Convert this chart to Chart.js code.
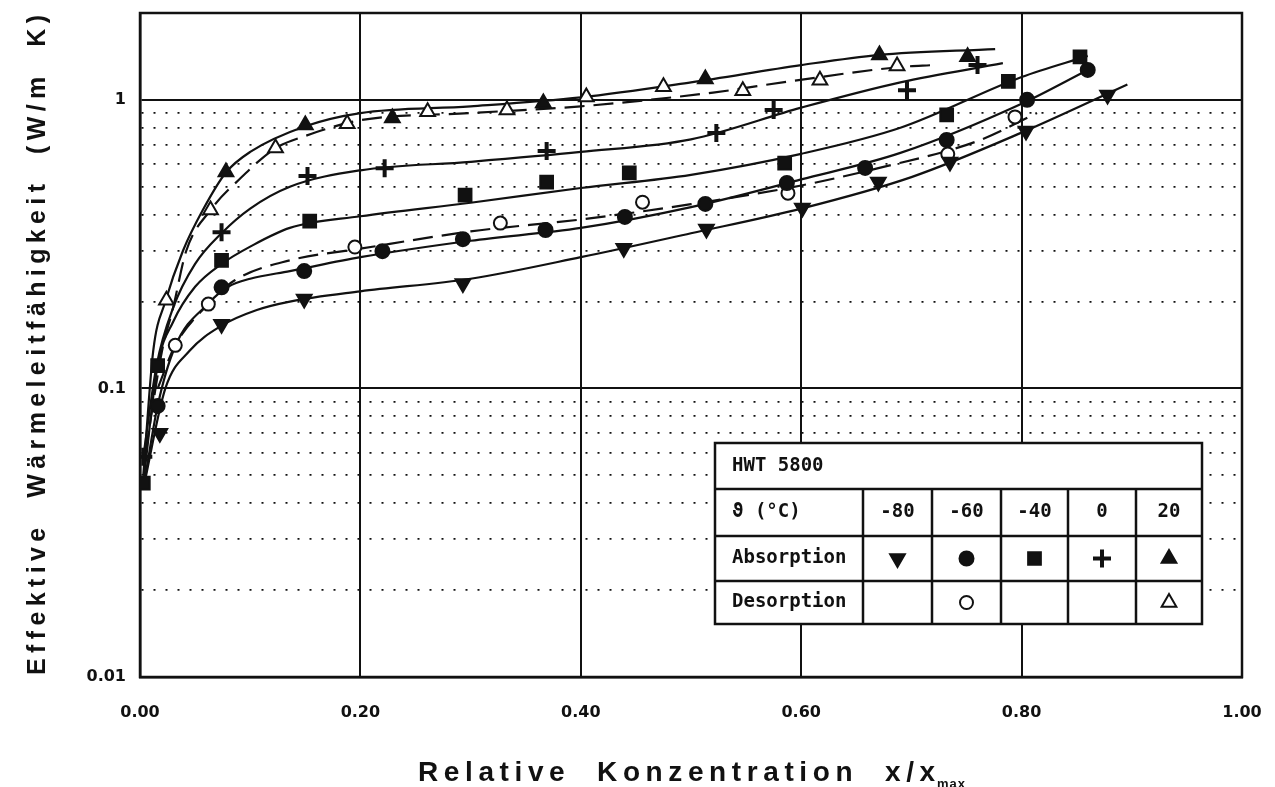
<!DOCTYPE html>
<html>
<head>
<meta charset="utf-8">
<script src="https://cdn.jsdelivr.net/npm/chart.js@4.4.1/dist/chart.umd.min.js"></script>
<style>
    html, body { margin: 0; padding: 0; background: #fff; }
    #wrap { position: relative; width: 1275px; height: 787px; }
</style>
</head>
<body>
<div id="wrap"><canvas id="chart" width="1275" height="787"></canvas></div>
<script>
// Axis ticks
const xTickValues = [0, 0.2, 0.4, 0.6, 0.8, 1.0];
const yLabelValues = [0.01, 0.1, 1];
const yMinorValues = [0.02, 0.03, 0.04, 0.05, 0.06, 0.07, 0.08, 0.09,
                      0.2, 0.3, 0.4, 0.5, 0.6, 0.7, 0.8, 0.9];

// Legend table
const tableTitle = 'HWT 5800';
const tempHeader = 'ϑ (°C)';
const tempLabels = ['-80', '-60', '-40', '0', '20'];

// Measured points (x/xmax, W/m K)
const m80AbsX = [0.018, 0.074, 0.149, 0.293, 0.439, 0.514, 0.601, 0.670, 0.735, 0.804, 0.878];
const m80AbsY = [0.070, 0.167, 0.204, 0.231, 0.306, 0.357, 0.422, 0.519, 0.609, 0.780, 1.04];

const m60AbsX = [0.016, 0.074, 0.149, 0.220, 0.293, 0.368, 0.440, 0.513, 0.587, 0.658, 0.732, 0.805, 0.860];
const m60AbsY = [0.087, 0.224, 0.255, 0.299, 0.329, 0.354, 0.393, 0.436, 0.515, 0.581, 0.726, 1.00, 1.27];

const m60DesX = [0.032, 0.062, 0.195, 0.327, 0.456, 0.588, 0.733, 0.794];
const m60DesY = [0.141, 0.196, 0.309, 0.374, 0.442, 0.475, 0.649, 0.873];

const m40AbsX = [0.003, 0.016, 0.074, 0.154, 0.295, 0.369, 0.444, 0.585, 0.732, 0.788, 0.853];
const m40AbsY = [0.047, 0.120, 0.278, 0.380, 0.468, 0.519, 0.558, 0.604, 0.887, 1.16, 1.41];

const p0AbsX = [0.003, 0.074, 0.152, 0.222, 0.369, 0.523, 0.575, 0.696, 0.760];
const p0AbsY = [0.058, 0.348, 0.545, 0.580, 0.665, 0.768, 0.923, 1.08, 1.32];

const p20AbsX = [0.078, 0.150, 0.229, 0.366, 0.513, 0.671, 0.751];
const p20AbsY = [0.562, 0.819, 0.866, 0.976, 1.18, 1.43, 1.41];

const p20DesX = [0.024, 0.064, 0.123, 0.188, 0.261, 0.333, 0.405, 0.475, 0.547, 0.617, 0.687];
const p20DesY = [0.202, 0.415, 0.681, 0.826, 0.909, 0.923, 1.024, 1.11, 1.075, 1.17, 1.31];

// Fitted curves as drawn in the figure
const c80X = [0.003, 0.023, 0.045, 0.074, 0.106, 0.136, 0.2, 0.3, 0.4, 0.5, 0.6, 0.7, 0.8, 0.896];
const c80Y = [0.045, 0.100, 0.135, 0.165, 0.187, 0.200, 0.217, 0.240, 0.285, 0.345, 0.420, 0.540, 0.770, 1.13];

const c60X = [0.003, 0.016, 0.032, 0.062, 0.080, 0.1, 0.136, 0.2, 0.3, 0.4, 0.5, 0.6, 0.69, 0.8, 0.86];
const c60Y = [0.045, 0.087, 0.140, 0.197, 0.225, 0.240, 0.255, 0.285, 0.325, 0.360, 0.425, 0.530, 0.655, 0.97, 1.27];

const c60dX = [0.016, 0.032, 0.062, 0.086, 0.136, 0.2, 0.3, 0.4, 0.5, 0.6, 0.67, 0.76, 0.814];
const c60dY = [0.100, 0.141, 0.196, 0.237, 0.278, 0.305, 0.350, 0.385, 0.435, 0.505, 0.580, 0.720, 0.90];

const c40X = [0.003, 0.016, 0.03, 0.05, 0.074, 0.1, 0.136, 0.2, 0.3, 0.4, 0.5, 0.6, 0.69, 0.8, 0.86];
const c40Y = [0.047, 0.120, 0.170, 0.225, 0.270, 0.310, 0.360, 0.395, 0.440, 0.495, 0.550, 0.650, 0.800, 1.20, 1.42];

const c0X = [0.003, 0.015, 0.03, 0.05, 0.074, 0.1, 0.136, 0.2, 0.3, 0.4, 0.5, 0.6, 0.69, 0.783];
const c0Y = [0.058, 0.120, 0.190, 0.270, 0.345, 0.420, 0.500, 0.570, 0.610, 0.660, 0.730, 0.940, 1.15, 1.34];

const c20X = [0.003, 0.012, 0.023, 0.039, 0.057, 0.078, 0.1, 0.15, 0.2, 0.3, 0.4, 0.5, 0.6, 0.67, 0.776];
const c20Y = [0.050, 0.135, 0.200, 0.300, 0.415, 0.560, 0.660, 0.810, 0.900, 0.950, 1.02, 1.15, 1.32, 1.43, 1.50];

const c20dX = [0.005, 0.02, 0.03, 0.042, 0.064, 0.09, 0.123, 0.15, 0.2, 0.3, 0.4, 0.52, 0.59, 0.69, 0.72];
const c20dY = [0.060, 0.135, 0.190, 0.300, 0.415, 0.530, 0.680, 0.750, 0.850, 0.900, 0.950, 1.06, 1.16, 1.30, 1.32];

const ink = '#111';
const yTitle = 'Effektive  Wärmeleitfähigkeit  (W/m  K)';
const xTitle = 'Relative  Konzentration  x/x';
const xTitleSub = 'max';

function pts(xs, ys) {
    return xs.map((x, i) => ({ x: x, y: ys[i] }));
}

function curve(xs, ys, dashed) {
    return {
        data: pts(xs, ys),
        borderColor: ink,
        borderWidth: 2.2,
        borderDash: dashed ? [20, 9] : [],
        pointRadius: 0,
        cubicInterpolationMode: 'monotone',
        fill: false,
        order: 2
    };
}

// markers: style, rotation, radius, filled
const markerStyles = {
    m80: { pointStyle: 'triangle', rotation: 180, radius: 8.5, filled: true },
    m60: { pointStyle: 'circle', rotation: 0, radius: 7, filled: true },
    m60d: { pointStyle: 'circle', rotation: 0, radius: 6.5, filled: false },
    m40: { pointStyle: 'rect', rotation: 0, radius: 9, filled: true },
    p0: { pointStyle: 'cross', rotation: 0, radius: 9, filled: true },
    p20: { pointStyle: 'triangle', rotation: 0, radius: 8.5, filled: true },
    p20d: { pointStyle: 'triangle', rotation: 0, radius: 8.5, filled: false }
};

function markers(xs, ys, st) {
    return {
        data: pts(xs, ys),
        showLine: false,
        pointStyle: st.pointStyle,
        rotation: st.rotation,
        pointRadius: st.radius,
        pointBackgroundColor: st.filled ? ink : '#fff',
        pointBorderColor: ink,
        pointBorderWidth: st.pointStyle === 'cross' ? 4 : 2,
        order: 1
    };
}

// white box with the HWT 5800 symbol table
const tablePlugin = {
    id: 'hwtTable',
    afterDraw(chart) {
        const ctx = chart.ctx;
        const colX = [715, 863, 932, 1001, 1068, 1136, 1202];
        const rowY = [443, 489, 536, 581, 624];
        const absStyles = [markerStyles.m80, markerStyles.m60, markerStyles.m40, markerStyles.p0, markerStyles.p20];
        const desStyles = [null, markerStyles.m60d, null, null, markerStyles.p20d];

        ctx.save();
        ctx.fillStyle = '#fff';
        ctx.fillRect(colX[0], rowY[0], colX[6] - colX[0], rowY[4] - rowY[0]);
        ctx.strokeStyle = ink;
        ctx.lineWidth = 2.5;
        ctx.strokeRect(colX[0], rowY[0], colX[6] - colX[0], rowY[4] - rowY[0]);
        ctx.beginPath();
        for (let r = 1; r < 4; r++) {
            ctx.moveTo(colX[0], rowY[r]);
            ctx.lineTo(colX[6], rowY[r]);
        }
        for (let c = 1; c < 6; c++) {
            ctx.moveTo(colX[c], rowY[1]);
            ctx.lineTo(colX[c], rowY[4]);
        }
        ctx.stroke();

        ctx.fillStyle = ink;
        ctx.font = 'bold 19px "DejaVu Sans Mono"';
        ctx.textBaseline = 'middle';
        ctx.textAlign = 'left';
        ctx.fillText(tableTitle, colX[0] + 17, (rowY[0] + rowY[1]) / 2);
        ctx.fillText(tempHeader, colX[0] + 17, (rowY[1] + rowY[2]) / 2);
        ctx.fillText('Absorption', colX[0] + 17, (rowY[2] + rowY[3]) / 2);
        ctx.fillText('Desorption', colX[0] + 17, (rowY[3] + rowY[4]) / 2);

        ctx.textAlign = 'center';
        tempLabels.forEach((t, i) => {
            ctx.fillText(t, (colX[i + 1] + colX[i + 2]) / 2, (rowY[1] + rowY[2]) / 2);
        });

        const drawMark = (st, x, y) => {
            ctx.fillStyle = st.filled ? ink : '#fff';
            ctx.strokeStyle = ink;
            ctx.lineWidth = st.pointStyle === 'cross' ? 4 : 2;
            Chart.helpers.drawPoint(ctx, {
                pointStyle: st.pointStyle,
                rotation: st.rotation,
                radius: st.radius,
                borderWidth: ctx.lineWidth
            }, x, y);
        };
        absStyles.forEach((st, i) => {
            drawMark(st, (colX[i + 1] + colX[i + 2]) / 2, (rowY[2] + rowY[3]) / 2);
        });
        desStyles.forEach((st, i) => {
            if (st) drawMark(st, (colX[i + 1] + colX[i + 2]) / 2, (rowY[3] + rowY[4]) / 2);
        });
        ctx.restore();
    }
};

// frame around the plot and the two axis titles
const framePlugin = {
    id: 'frameTitles',
    beforeDatasetsDraw(chart) {
        const { ctx, chartArea: a } = chart;
        ctx.save();
        ctx.strokeStyle = ink;
        ctx.lineWidth = 2.5;
        ctx.strokeRect(a.left, a.top, a.right - a.left, a.bottom - a.top);
        ctx.restore();
    },
    afterDraw(chart) {
        const { ctx, chartArea: a } = chart;
        ctx.save();
        ctx.fillStyle = ink;
        ctx.textBaseline = 'middle';
        ctx.textAlign = 'left';

        // y title, stretched to the plot height
        ctx.font = 'bold 25px "Liberation Sans"';
        const yw = ctx.measureText(yTitle).width;
        const yTarget = 660;
        ctx.letterSpacing = ((yTarget - yw) / (yTitle.length - 1)).toFixed(2) + 'px';
        ctx.translate(38, 345);
        ctx.rotate(-Math.PI / 2);
        ctx.fillText(yTitle, -yTarget / 2, 0);
        ctx.restore();

        ctx.save();
        ctx.fillStyle = ink;
        ctx.textBaseline = 'alphabetic';
        ctx.textAlign = 'left';
        ctx.font = 'bold 28px "Liberation Sans"';
        const xw = ctx.measureText(xTitle).width;
        const xTarget = 517;
        ctx.letterSpacing = ((xTarget - xw) / (xTitle.length - 1)).toFixed(2) + 'px';
        const x0 = 418;
        ctx.fillText(xTitle, x0, 781);
        ctx.font = 'bold 13px "Liberation Sans"';
        ctx.letterSpacing = '1px';
        ctx.fillText(xTitleSub, x0 + xTarget + 2, 788);
        ctx.restore();
    }
};

const tickFont = { family: 'DejaVu Sans', weight: 'bold', size: 16 };

new Chart(document.getElementById('chart'), {
    type: 'line',
    data: {
        datasets: [
            markers(m80AbsX, m80AbsY, markerStyles.m80),
            markers(m60AbsX, m60AbsY, markerStyles.m60),
            markers(m60DesX, m60DesY, markerStyles.m60d),
            markers(m40AbsX, m40AbsY, markerStyles.m40),
            markers(p0AbsX, p0AbsY, markerStyles.p0),
            markers(p20AbsX, p20AbsY, markerStyles.p20),
            markers(p20DesX, p20DesY, markerStyles.p20d),
            curve(c80X, c80Y, false),
            curve(c60X, c60Y, false),
            curve(c60dX, c60dY, true),
            curve(c40X, c40Y, false),
            curve(c0X, c0Y, false),
            curve(c20X, c20Y, false),
            curve(c20dX, c20dY, true)
        ]
    },
    options: {
        responsive: false,
        animation: false,
        devicePixelRatio: 1,
        layout: { padding: { top: 13, right: 33, left: 0, bottom: 0 } },
        plugins: {
            legend: { display: false },
            tooltip: { enabled: false }
        },
        scales: {
            x: {
                type: 'linear',
                min: 0,
                max: 1,
                afterBuildTicks: s => { s.ticks = xTickValues.map(v => ({ value: v })); },
                afterFit: s => {
                    s.height = 110;
                    s.paddingLeft = 0;
                    s.paddingRight = 0;
                },
                ticks: {
                    color: ink,
                    font: tickFont,
                    padding: 26,
                    maxRotation: 0,
                    callback: v => v.toFixed(2)
                },
                grid: { color: ink, lineWidth: 2, drawTicks: false },
                border: { color: ink, width: 2.5 }
            },
            y: {
                type: 'logarithmic',
                min: 0.01,
                max: 2,
                afterBuildTicks: s => {
                    const vals = yLabelValues.concat(yMinorValues).sort((a, b) => a - b);
                    s.ticks = vals.map(v => ({ value: v }));
                },
                afterFit: s => {
                    s.width = 140;
                    s.paddingTop = 0;
                    s.paddingBottom = 0;
                },
                ticks: {
                    color: ink,
                    font: tickFont,
                    padding: 14,
                    autoSkip: false,
                    callback: v => yLabelValues.includes(v) ? String(v) : ''
                },
                grid: {
                    drawTicks: false,
                    color: ink,
                    lineWidth: c => (c.tick && yLabelValues.includes(c.tick.value)) ? 2 : 1.8
                },
                border: {
                    color: ink,
                    width: 2.5,
                    dash: c => (c.tick && !yLabelValues.includes(c.tick.value)) ? [2, 10] : []
                }
            }
        }
    },
    plugins: [framePlugin, tablePlugin]
});
</script>
</body>
</html>
